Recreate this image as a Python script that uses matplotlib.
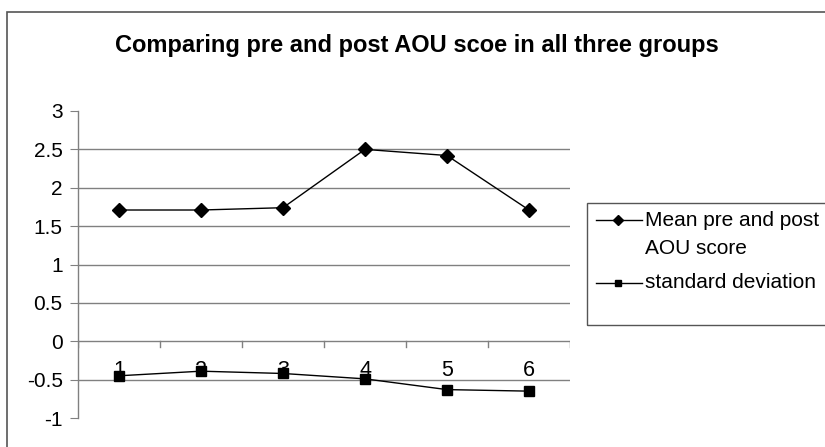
import numpy as np
import matplotlib.pyplot as plt
from matplotlib.patches import Rectangle
from matplotlib.lines import Line2D

plt.rcParams['font.family'] = ['Liberation Sans', 'DejaVu Sans']

groups = ['1', '2', '3', '4', '5', '6']
mean_score = [1.71, 1.71, 1.74, 2.5, 2.42, 1.71]
std_dev = [-0.45, -0.39, -0.42, -0.49, -0.63, -0.65]
series_names = ['Mean pre and post\nAOU score', 'standard deviation']

W, H = 825, 447
fig = plt.figure(figsize=(W / 100, H / 100), dpi=100)

def fx(px):
    return px / W

def fy(py):
    return 1 - py / H

# outer chart border
fig.patches.append(Rectangle((fx(7), -0.1), 1.2, fy(12) + 0.1, transform=fig.transFigure,
                             fill=False, edgecolor='#555555', linewidth=1.2))

ax = fig.add_axes([fx(78), fy(418), fx(570 - 78), (418 - 111) / H])
x = np.arange(1, len(groups) + 1)

ax.plot(x, mean_score, '-k', marker='D', markersize=7, linewidth=1)
ax.plot(x, std_dev, '-k', marker='s', markersize=7, linewidth=1)

ax.set_xlim(0.5, 6.5)
ax.set_ylim(-1, 3)
ax.set_yticks(np.arange(-1, 3.01, 0.5))
ax.set_yticklabels(['-1', '-0.5', '0', '0.5', '1', '1.5', '2', '2.5', '3'], fontsize=15)
for v in [-0.5, 0.5, 1, 1.5, 2, 2.5]:
    ax.axhline(v, color='#808080', linewidth=1, zorder=0)

for s in ['top', 'right', 'bottom']:
    ax.spines[s].set_visible(False)
ax.spines['left'].set_color('#808080')
ax.spines['left'].set_linewidth(1)
ax.tick_params(axis='y', color='#808080', length=6, pad=5)

# category axis at y = 0
ax.axhline(0, color='#808080', linewidth=1, zorder=1)
ax.set_xticks([])
for b in np.arange(0.5, 6.6, 1):
    ax.plot([b, b], [0, -0.08], color='#808080', linewidth=1)
for xi, g in zip(x, groups):
    ax.text(xi, -0.38, g, ha='center', va='center', fontsize=15.5)

fig.text(fx(115), fy(52), 'Comparing pre and post AOU scoe in all three groups',
         ha='left', va='baseline', fontsize=17, fontweight='heavy')

# legend
fig.patches.append(Rectangle((fx(587), fy(325)), 0.5, (325 - 203) / H,
                             transform=fig.transFigure, fill=False,
                             edgecolor='#555555', linewidth=1))
rows = [220, 283]
markers = ['D', 's']
for py, m, name in zip(rows, markers, series_names):
    fig.lines.append(Line2D([fx(596), fx(642)], [fy(py), fy(py)], color='k', linewidth=1,
                            transform=fig.transFigure))
    fig.lines.append(Line2D([fx(618)], [fy(py)], color='k', marker=m, markersize=5,
                            transform=fig.transFigure))
    for k, line in enumerate(name.split('\n')):
        fig.text(fx(645), fy(py + 28 * k), line, ha='left', va='center', fontsize=15)

fig.savefig('out.png', dpi=100)
